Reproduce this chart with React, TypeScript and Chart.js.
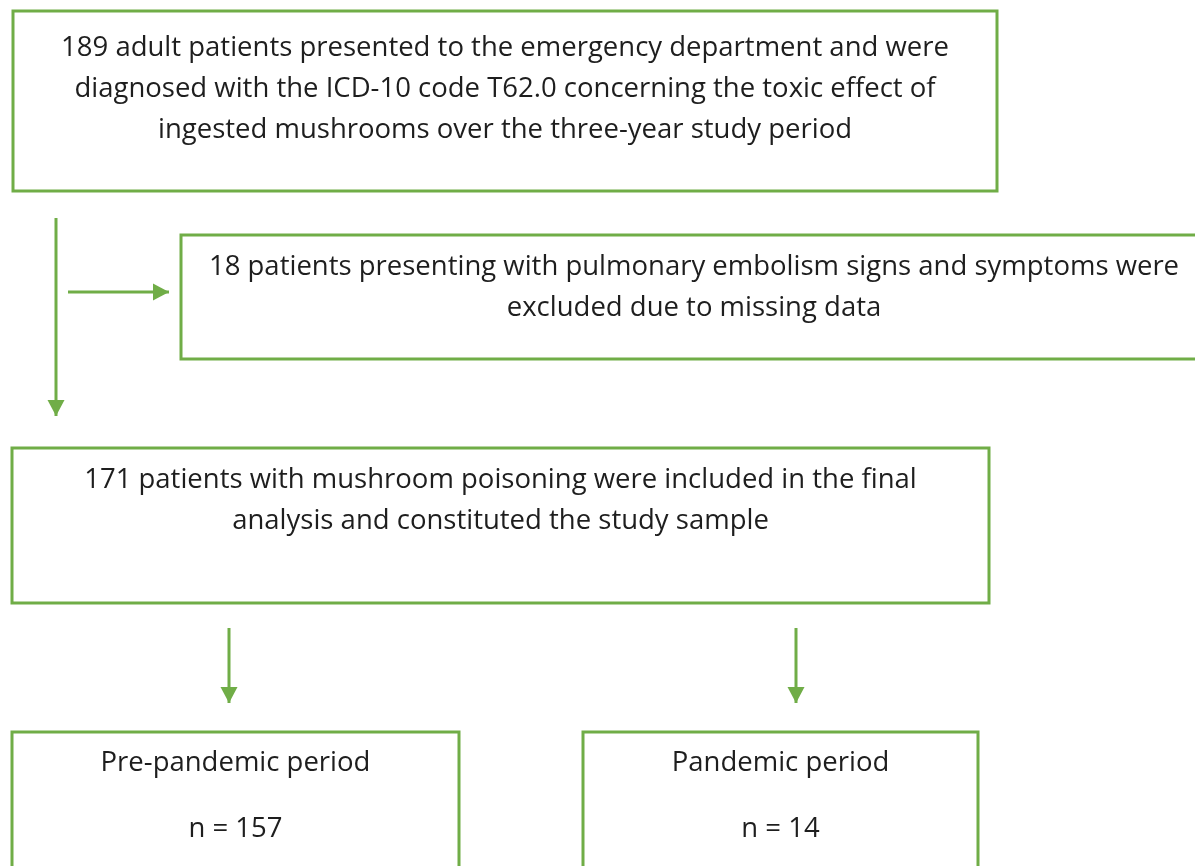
import React, { useEffect, useRef } from "react";
import { Chart, registerables } from "chart.js";

Chart.register(...registerables);

// Flowchart nodes (in page-pixel data units)
const boxLeft = [13, 181, 12, 12, 583];
const boxRight = [997, 1207, 989, 459, 978];
const boxTop = [11, 235, 448, 732, 732];
const boxBottom = [191, 359, 603, 900, 900];

const boxLines: string[][] = [
  [
    "189 adult patients presented to the emergency department and were",
    "diagnosed with the ICD-10 code T62.0 concerning the toxic effect of",
    "ingested mushrooms over the three-year study period",
  ],
  [
    "18 patients presenting with pulmonary embolism signs and symptoms were",
    "excluded due to missing data",
  ],
  [
    "171 patients with mushroom poisoning were included in the final",
    "analysis and constituted the study sample",
  ],
  ["Pre-pandemic period", "n = 157"],
  ["Pandemic period", "n = 14"],
];
const boxLineY: number[][] = [
  [48, 89, 130],
  [267, 308],
  [480, 521],
  [763, 829],
  [763, 829],
];

// Arrows: start and end (tip)
const arrowX0 = [56, 68, 229, 796];
const arrowY0 = [218, 292, 628, 628];
const arrowX1 = [56, 169, 229, 796];
const arrowY1 = [416, 292, 703, 703];

const GREEN = "#70ad47";
const TEXT = "#1e1e1e";
const FONT = '27.5px "Open Sans"';

export default function App() {
  const ref = useRef<HTMLCanvasElement>(null);
  useEffect(() => {
    document.body.style.margin = "0";
    const datasets: any[] = [];
    boxLeft.forEach((_, i) => {
      datasets.push({
        type: "line",
        data: [
          { x: boxLeft[i], y: boxTop[i] },
          { x: boxRight[i], y: boxTop[i] },
          { x: boxRight[i], y: boxBottom[i] },
          { x: boxLeft[i], y: boxBottom[i] },
          { x: boxLeft[i], y: boxTop[i] },
        ],
        borderColor: GREEN,
        borderWidth: 3,
        borderCapStyle: "square",
        borderJoinStyle: "miter",
        pointRadius: 0,
        showLine: true,
        tension: 0,
        fill: false,
        clip: false,
      });
    });
    arrowX0.forEach((_, i) => {
      datasets.push({
        type: "line",
        data: [
          { x: arrowX0[i], y: arrowY0[i] },
          { x: arrowX1[i], y: arrowY1[i] },
        ],
        borderColor: GREEN,
        borderWidth: 3,
        pointRadius: 0,
        showLine: true,
        fill: false,
        clip: false,
      });
    });

    const flowPlugin = {
      id: "flow",
      afterDatasetsDraw(chart: any) {
        const { ctx, scales } = chart;
        const sx = scales.x, sy = scales.y;
        ctx.save();
        // arrowheads
        ctx.fillStyle = GREEN;
        arrowX0.forEach((_, i) => {
          const x0 = sx.getPixelForValue(arrowX0[i]);
          const y0 = sy.getPixelForValue(arrowY0[i]);
          const x1 = sx.getPixelForValue(arrowX1[i]);
          const y1 = sy.getPixelForValue(arrowY1[i]);
          const a = Math.atan2(y1 - y0, x1 - x0);
          const L = 16, W = 8.5;
          ctx.beginPath();
          ctx.moveTo(x1, y1);
          ctx.lineTo(x1 - L * Math.cos(a) - W * Math.sin(a), y1 - L * Math.sin(a) + W * Math.cos(a));
          ctx.lineTo(x1 - L * Math.cos(a) + W * Math.sin(a), y1 - L * Math.sin(a) - W * Math.cos(a));
          ctx.closePath();
          ctx.fill();
        });
        // texts
        ctx.fillStyle = TEXT;
        ctx.font = FONT;
        ctx.textAlign = "center";
        ctx.textBaseline = "middle";
        boxLines.forEach((lines, i) => {
          const cx = sx.getPixelForValue((boxLeft[i] + boxRight[i]) / 2);
          lines.forEach((t, j) => {
            ctx.fillText(t, cx, sy.getPixelForValue(boxLineY[i][j]));
          });
        });
        ctx.restore();
      },
    };

    const chart = new Chart(ref.current!, {
      type: "scatter",
      data: { datasets },
      options: {
        animation: false,
        responsive: true,
        maintainAspectRatio: false,
        layout: { padding: 0 },
        plugins: { legend: { display: false }, tooltip: { enabled: false } },
        scales: {
          x: { type: "linear", min: 0, max: 1195, display: false },
          y: { type: "linear", min: 0, max: 866, reverse: true, display: false },
        },
      },
      plugins: [flowPlugin],
    });
    return () => chart.destroy();
  }, []);
  return (
    <div style={{ width: 1195, height: 866, position: "relative", background: "#fff" }}>
      <canvas ref={ref} />
    </div>
  );
}
